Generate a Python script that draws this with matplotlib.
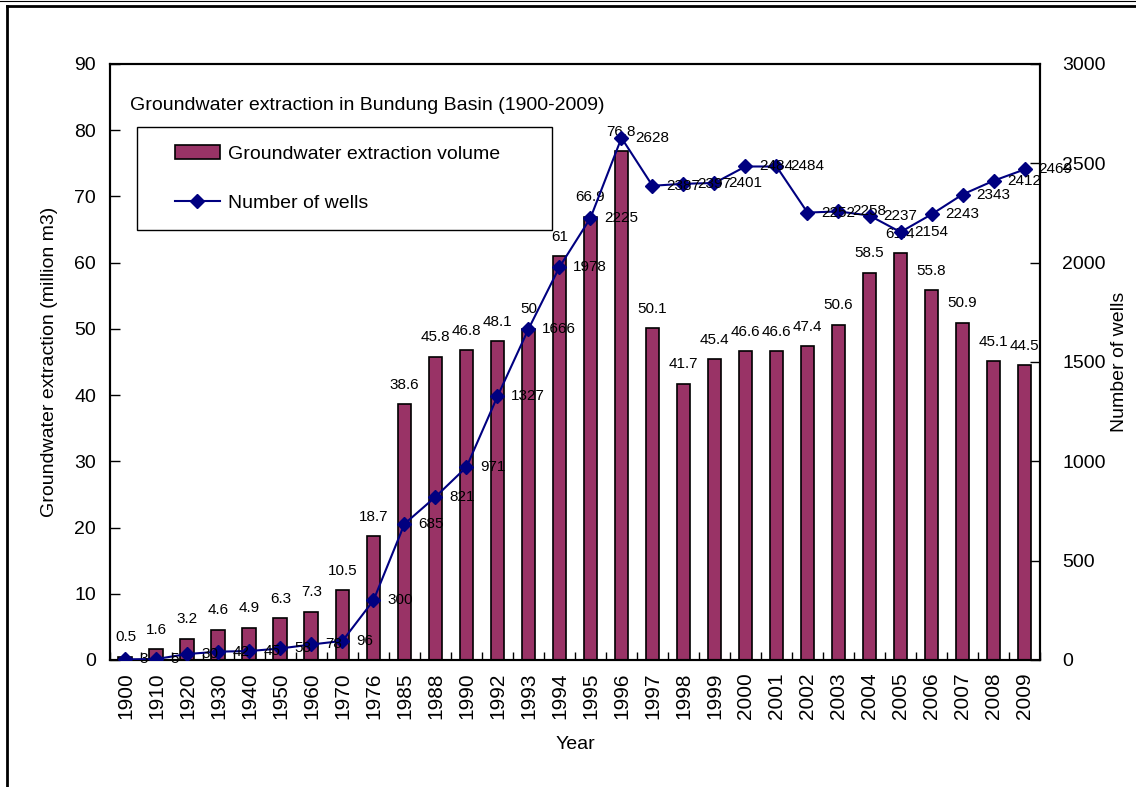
import matplotlib.pyplot as plt
import numpy as np
from matplotlib.lines import Line2D
from matplotlib.patches import Rectangle

plt.rcParams['font.family'] = ['Liberation Sans', 'DejaVu Sans']

years = ['1900', '1910', '1920', '1930', '1940', '1950', '1960', '1970', '1976',
         '1985', '1988', '1990', '1992', '1993', '1994', '1995', '1996', '1997',
         '1998', '1999', '2000', '2001', '2002', '2003', '2004', '2005', '2006',
         '2007', '2008', '2009']
extraction = [0.5, 1.6, 3.2, 4.6, 4.9, 6.3, 7.3, 10.5, 18.7, 38.6, 45.8, 46.8,
              48.1, 50, 61, 66.9, 76.8, 50.1, 41.7, 45.4, 46.6, 46.6, 47.4, 50.6,
              58.5, 61.4, 55.8, 50.9, 45.1, 44.5]
wells = [3, 5, 30, 42, 45, 58, 78, 96, 300, 685, 821, 971, 1327, 1666, 1978,
         2225, 2628, 2387, 2397, 2401, 2484, 2484, 2252, 2258, 2237, 2154, 2243,
         2343, 2412, 2469]

bar_color = '#993366'
line_color = '#000080'

fig = plt.figure(figsize=(11.36, 7.87), dpi=100)
ax = fig.add_axes([0.0968, 0.1614, 0.8187, 0.7573])
ax2 = ax.twinx()

x = np.arange(len(years))
bars = ax.bar(x, extraction, width=0.45, color=bar_color, edgecolor='black',
              linewidth=1.2, label='Groundwater extraction volume', zorder=2)
line, = ax2.plot(x, wells, color=line_color, linewidth=1.5, marker='D',
                 markersize=7, label='Number of wells', zorder=3)

for xi, v in zip(x, extraction):
    ax.annotate(f'{v:g}', (xi, v), xytext=(0, 9), textcoords='offset points',
                ha='center', va='bottom', fontsize=11)
for xi, v in zip(x, wells):
    ax2.annotate(f'{v}', (xi, v), xytext=(10, 0), textcoords='offset points',
                 ha='left', va='center', fontsize=11)

ax.set_xlim(-0.5, len(years) - 0.5)
ax.set_ylim(0, 90)
ax.set_yticks(np.arange(0, 91, 10))
ax2.set_ylim(0, 3000)
ax2.set_yticks(np.arange(0, 3001, 500))

ax.set_xticks(x)
ax.set_xticklabels(years, rotation=90, fontsize=15)
ax.set_xticks(np.arange(-0.5, len(years), 1), minor=True)
ax.tick_params(axis='x', which='major', length=0, pad=9)
ax.tick_params(axis='x', which='minor', direction='in', length=6, width=1)
ax.tick_params(axis='y', direction='in', length=7, width=1, labelsize=14, pad=10)
ax2.tick_params(axis='y', direction='in', length=7, width=1, labelsize=14, pad=16)

for a in (ax, ax2):
    for s in a.spines.values():
        s.set_linewidth(1.5)

ax.set_xlabel('Year', fontsize=14, labelpad=12)
ax.set_ylabel('Groundwater extraction (million m3)', fontsize=14, labelpad=12)
ax2.set_ylabel('Number of wells', fontsize=14, labelpad=4)

ax.text(0.022, 0.93, 'Groundwater extraction in Bundung Basin (1900-2009)',
        transform=ax.transAxes, fontsize=14, va='center', ha='left')

# legend box drawn separately so the entries can sit inset from its frame
ax.add_patch(Rectangle((0.029, 0.721), 0.446, 0.173, transform=ax.transAxes,
                       facecolor='white', edgecolor='black', linewidth=1.0,
                       zorder=4))
leg = ax.legend([bars, line], ['Groundwater extraction volume', 'Number of wells'],
                loc='center left', bbox_to_anchor=(0.070, 0.808),
                fontsize=14, frameon=False, borderpad=0, labelspacing=1.6,
                handlelength=2.3, handletextpad=0.4, borderaxespad=0)
leg.set_zorder(5)

# page frame around the chart
fig.add_artist(Line2D([0, 1], [1 - 1 / 787] * 2, color='black', linewidth=0.8,
                      transform=fig.transFigure))
fig.add_artist(Line2D([7 / 1136, 1], [1 - 5.5 / 787] * 2, color='black',
                      linewidth=2, transform=fig.transFigure))
fig.add_artist(Line2D([7 / 1136] * 2, [0, 1 - 5.5 / 787], color='black',
                      linewidth=2, transform=fig.transFigure))

fig.savefig('out.png', dpi=100)
